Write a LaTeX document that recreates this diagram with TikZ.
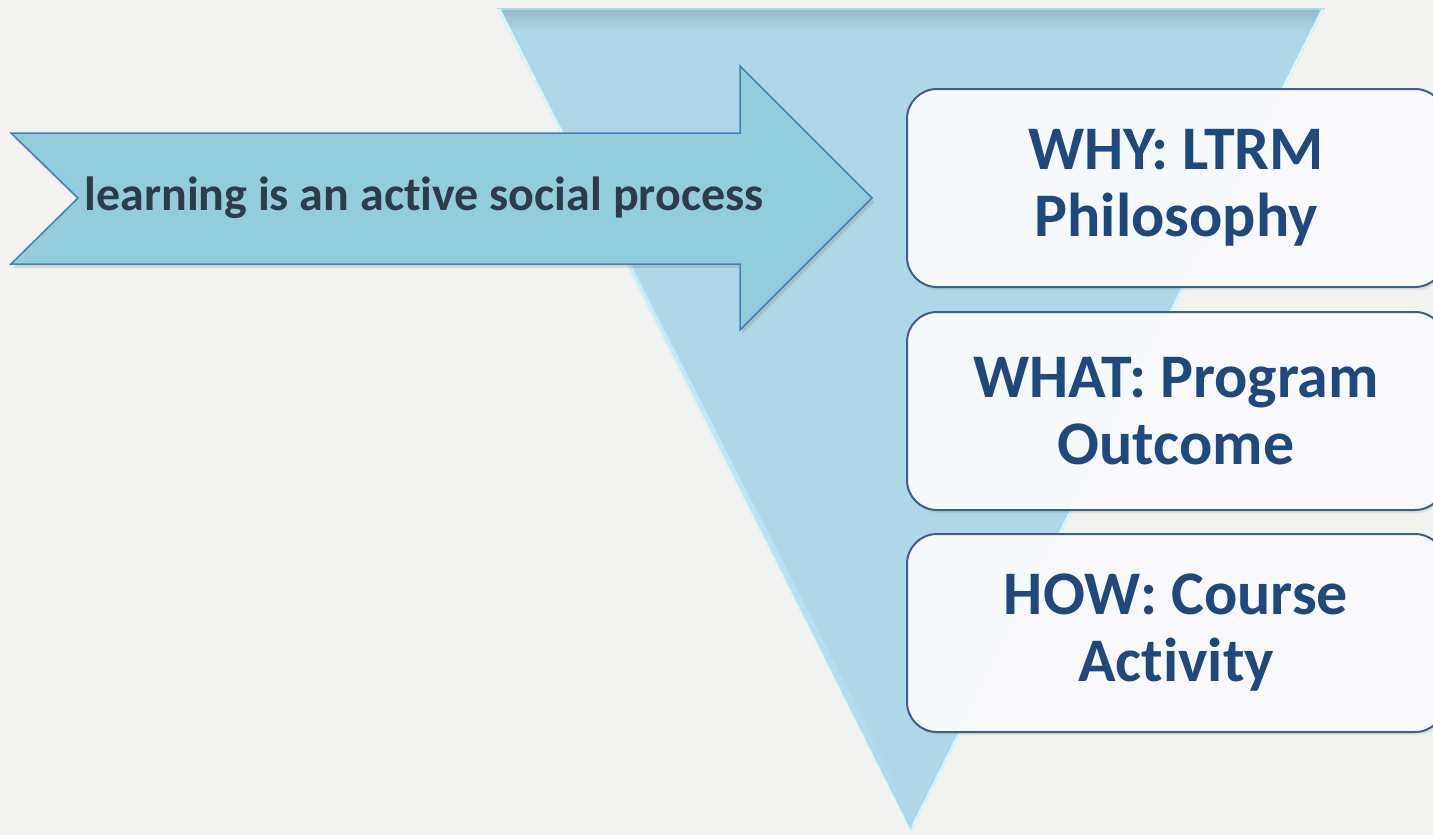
\documentclass[tikz,border=0pt]{standalone}
\usepackage{fontspec}
\setmainfont{Carlito}[Ligatures=NoCommon]
\usetikzlibrary{shadows}
\definecolor{pagebg}{HTML}{F2F2EE}
\definecolor{funnelblue}{HTML}{AED7E8}
\definecolor{funneltop}{HTML}{94BCCB}
\definecolor{funnelglow}{HTML}{D6F6FC}
\definecolor{arrowfill}{HTML}{92CDDC}
\definecolor{arrowline}{HTML}{4A7EBB}
\definecolor{arrowtext}{HTML}{2F3A4A}
\definecolor{boxline}{HTML}{3D5F8C}
\definecolor{boxfill}{HTML}{FAFBFE}
\definecolor{boxtext}{HTML}{1F497D}
\begin{document}
\begin{tikzpicture}[x=1pt,y=-1pt,
  levelbox/.style={draw=boxline,line width=2pt,fill=boxfill,fill opacity=.96,
    text opacity=1,rounded corners=30pt,minimum width=538pt,minimum height=198pt,
    align=center,text=boxtext,font=\fontsize{62}{67}\selectfont\bfseries,
    drop shadow={opacity=.15,shadow xshift=2pt,shadow yshift=-3pt}}]
\useasboundingbox (0,0) rectangle (1433,835);
\clip (0,0) rectangle (1433,835);
\fill[pagebg] (0,0) rectangle (1433,835);
% funnel
\fill[funnelblue] (497,8) -- (1325,8) -- (911,832) -- cycle;
\shade[top color=funneltop,bottom color=funnelblue] (500,10) -- (1322,10) -- (1312,32) -- (512,32) -- cycle;
\draw[funnelglow,line width=3pt] (499,9) -- (911,830) -- (1323,9);
\shade[left color=funnelglow,right color=funnelblue] (500,10) -- (512,32) -- (914,818) -- (911,830) -- cycle;
% arrow
\draw[arrowline,fill=arrowfill,line width=1.5pt,line join=miter,
  drop shadow={opacity=.25,shadow xshift=2pt,shadow yshift=-4pt}]
  (11,133) -- (740,133) -- (740,66) -- (872,198) -- (740,330) -- (740,264)
  -- (11,264) -- (78,198) -- cycle;
\node[text=arrowtext,font=\fontsize{48}{56}\selectfont\bfseries] (idea) at (424,198)
  {learning is an active social process};
% levels
\node[levelbox] (why) at (1176,188) {WHY: LTRM\\Philosophy};
\node[levelbox] (what) at (1176,411) {WHAT: Program\\Outcome};
\node[levelbox] (how) at (1176,633) {HOW: Course\\Activity};
\end{tikzpicture}
\end{document}
